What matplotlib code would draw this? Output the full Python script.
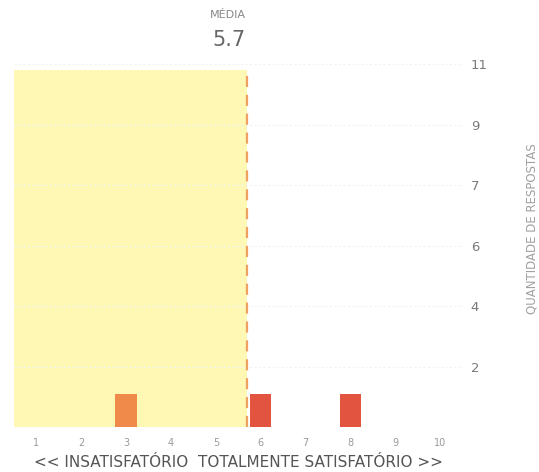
import numpy as np
import matplotlib
matplotlib.use("Agg")
import matplotlib.pyplot as plt

# scores 1..10 and how many answers each got
scores = [1, 2, 3, 4, 5, 6, 7, 8, 9, 10]
counts = [0, 0, 1, 0, 0, 1, 0, 1, 0, 0]
bar_colors = ['#f08a4b', '#f08a4b', '#f08a4b', '#f08a4b', '#f08a4b',
              '#e35440', '#e35440', '#e35440', '#e35440', '#e35440']
mean = 5.7
ymax = 11
ytick_vals = [ymax * k / 6.0 for k in range(1, 7)]
ytick_labels = ['2', '4', '6', '7', '9', '11']

fig = plt.figure(figsize=(5.39, 4.72), dpi=100)
ax = fig.add_axes([0.026, 0.095, 0.832, 0.769])

ax.axvspan(0.5, mean, ymin=0, ymax=0.985, color='#fef8b4', lw=0, zorder=0)
for y in ytick_vals:
    ax.axhline(y, color='#f2f2f2', lw=0.8, ls=(0, (2, 2)), zorder=0.5)
ax.bar(scores, counts, width=0.48, color=bar_colors, zorder=2)
ax.axvline(mean, ymin=0, ymax=0.985, color='#f0a060', lw=1.6,
           ls=(0, (5, 3.5)), zorder=3)

ax.set_xlim(0.5, 10.5)
ax.set_ylim(0, ymax)
ax.set_xticks(scores)
ax.set_xticklabels([str(s) for s in scores], fontsize=7, color='#9a9a9a')
ax.yaxis.tick_right()
ax.set_yticks(ytick_vals)
ax.set_yticklabels(ytick_labels, fontsize=9.5, color='#7a7a7a')
ax.tick_params(axis='both', length=0)
ax.tick_params(axis='x', pad=8)
ax.tick_params(axis='y', pad=6)
for s in ax.spines.values():
    s.set_visible(False)

ax.set_xlabel('<< INSATISFATÓRIO  TOTALMENTE SATISFATÓRIO >>',
              fontsize=11, color='#555555', labelpad=5)
fig.text(0.987, 0.515, 'QUANTIDADE DE RESPOSTAS', rotation=90, fontsize=8.5,
         color='#a0a0a0', ha='center', va='center')

ax.text(mean - 0.03, 1.135, 'MÉDIA', transform=ax.get_xaxis_transform(),
        ha='right', va='center', fontsize=8, color='#888888')
ax.text(mean - 0.03, 1.066, '5.7', transform=ax.get_xaxis_transform(),
        ha='right', va='center', fontsize=15, color='#666666')

plt.savefig('out.png', dpi=100)
